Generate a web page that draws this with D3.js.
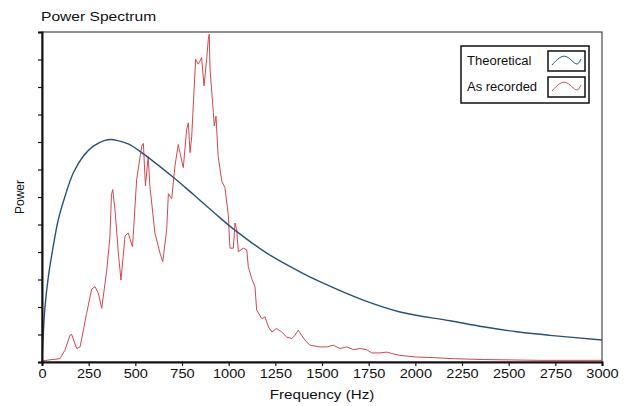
<!DOCTYPE html>
<html>
<head>
<meta charset="utf-8">
<script src="https://cdn.jsdelivr.net/npm/d3@7/dist/d3.min.js"></script>
<style>
  body { margin: 0; background: #fff; }
  text { font-family: Arial, "Liberation Sans", sans-serif; fill: #111; }
</style>
</head>
<body>
<div id="chart"></div>
<script>
// tick labels
var freqTicks = [0, 250, 500, 750, 1000, 1250, 1500, 1750, 2000, 2250, 2500, 2750, 3000];
var powerTicks = [0, 1, 2, 3, 4, 5, 6, 7, 8, 9, 10, 11, 12];

// theoretical curve
var theoFreq = [0, 7, 16, 34, 60, 87, 123, 168, 221, 275, 337, 370, 400, 462, 525, 703, 766, 846, 927, 1025, 1204, 1382, 1489, 1721, 1918, 2186, 2364, 2543, 2721, 3000];
var theoPower = [0, 1.05, 2.0, 3.1, 4.2, 5.17, 6.02, 6.88, 7.48, 7.85, 8.06, 8.09, 8.06, 7.93, 7.66, 6.72, 6.36, 5.88, 5.4, 4.84, 3.96, 3.28, 2.92, 2.25, 1.82, 1.5, 1.28, 1.1, 0.97, 0.8];

// recorded spectrum
var recFreq = [3, 43, 96, 123, 150, 159, 186, 204, 239, 266, 284, 302, 320, 347, 364, 372, 379, 391, 409, 423, 445, 462, 481, 485,
  507, 534, 543, 554, 569, 578, 605, 632, 647, 668, 677, 695, 712, 730, 739, 757, 775, 784, 793, 802, 814, 823, 837, 846, 855,
  868, 882, 891, 896, 900, 918, 923, 932, 944, 963, 980, 998, 1007, 1025, 1034, 1043, 1052, 1078, 1097, 1105, 1123, 1141, 1150,
  1177, 1195, 1213, 1231, 1257, 1284, 1311, 1338, 1355, 1373, 1391, 1409, 1436, 1489, 1525, 1561, 1596, 1632, 1668, 1704, 1739,
  1766, 1811, 1847, 1873, 1918, 2007, 2096, 2203, 2364, 2668, 3000];
var recPower = [0.04, 0.08, 0.12, 0.43, 0.97, 1.0, 0.49, 0.55, 1.77, 2.65, 2.74, 2.5, 1.95, 3.35, 4.56, 6.08, 6.27, 5.54, 3.96, 2.98, 4.59, 4.69, 4.26, 4.2,
  6.63, 7.84, 7.95, 6.41, 7.47, 6.39, 4.69, 3.96, 3.65, 4.81, 6.12, 5.94, 7.12, 7.91, 7.61, 7.07, 8.46, 8.7, 7.61, 8.2, 9.8, 11.01, 10.83, 10.94, 11.07,
  10.04, 11.01, 11.74, 11.92, 10.65, 9.07, 8.58, 8.94, 7.47, 6.58, 6.34, 5.36, 4.14, 4.14, 5.05, 4.81, 4.01, 4.14, 4.08, 3.47, 3.04, 2.74, 1.89,
  1.58, 1.64, 1.28, 1.09, 1.22, 1.09, 0.91, 0.85, 0.97, 1.16, 0.97, 0.79, 0.61, 0.55, 0.55, 0.61, 0.49, 0.55, 0.45, 0.49, 0.45,
  0.33, 0.33, 0.36, 0.31, 0.24, 0.18, 0.16, 0.12, 0.09, 0.06, 0.06];

var seriesNames = ["Theoretical", "As recorded"];
var seriesColors = ["#24527e", "#d4474c"];

var W = 626, H = 406,
    margin = { top: 32, right: 24, bottom: 44, left: 42 },
    w = W - margin.left - margin.right,
    h = H - margin.top - margin.bottom;

var svg = d3.select("#chart").append("svg")
    .attr("width", W)
    .attr("height", H);
var g = svg.append("g")
    .attr("transform", "translate(" + margin.left + "," + margin.top + ")");

var x = d3.scaleLinear().domain([0, 3000]).range([0, w]);
var y = d3.scaleLinear().domain([0, 12]).range([h, 0]);

// frame (top/right)
g.append("rect")
    .attr("width", w).attr("height", h)
    .attr("fill", "none").attr("stroke", "#222").attr("stroke-width", 1);

var theo = theoFreq.map(function(f, i) { return [f, theoPower[i]]; });
var rec = recFreq.map(function(f, i) { return [f, recPower[i]]; });

var recLine = d3.line()
    .x(function(d) { return x(d[0]); })
    .y(function(d) { return y(d[1]); });
var theoLine = d3.line()
    .x(function(d) { return x(d[0]); })
    .y(function(d) { return y(d[1]); })
    .curve(d3.curveCatmullRom.alpha(0.5));

g.append("path").datum(rec)
    .attr("d", recLine)
    .attr("fill", "none").attr("stroke", seriesColors[1]).attr("stroke-width", 1);

g.append("path").datum(theo)
    .attr("d", theoLine)
    .attr("fill", "none").attr("stroke", seriesColors[0]).attr("stroke-width", 1.4);

// axes
var xAxis = d3.axisBottom(x).tickValues(freqTicks).tickSize(4).tickPadding(3).tickFormat(d3.format("d"));
var gx = g.append("g").attr("transform", "translate(0," + h + ")").call(xAxis);
gx.selectAll("text").style("font-size", "13px").attr("transform", "scale(1.12,1)");
gx.select(".domain").attr("stroke", "#111").attr("stroke-width", 2);
gx.selectAll(".tick line").attr("stroke", "#111").attr("stroke-width", 1.2);

var yAxis = d3.axisLeft(y).tickValues(powerTicks).tickSize(4).tickFormat("");
var gy = g.append("g").call(yAxis);
gy.select(".domain").attr("stroke", "#111").attr("stroke-width", 2);
gy.selectAll(".tick line").attr("stroke", "#111").attr("stroke-width", 1.2);

// title and labels
svg.append("text").attr("transform", "translate(41,21) scale(1.2,1)")
    .style("font-size", "13px").text("Power Spectrum");
svg.append("text").attr("transform", "translate(" + (margin.left + w / 2) + ",399) scale(1.17,1)")
    .attr("text-anchor", "middle").style("font-size", "13px").text("Frequency (Hz)");
svg.append("text").attr("transform", "translate(24,197) rotate(-90)")
    .attr("text-anchor", "middle").style("font-size", "12px").text("Power");

// legend
var legend = svg.append("g").attr("transform", "translate(461,46)");
legend.append("rect").attr("width", 128).attr("height", 57)
    .attr("fill", "#fff").attr("stroke", "#111").attr("stroke-width", 1.5);
var wave = [[0, 12], [0.25, 4], [0.5, 2], [0.75, 10], [0.9, 12], [1, 6]];
var waveLine = d3.line()
    .x(function(d) { return 4 + d[0] * 29; })
    .y(function(d) { return d[1] + 2; })
    .curve(d3.curveBasis);
seriesNames.forEach(function(name, i) {
    var row = legend.append("g").attr("transform", "translate(0," + (i * 26) + ")");
    row.append("text").attr("x", 6).attr("y", 19).style("font-size", "13px").text(name);
    var box = row.append("g").attr("transform", "translate(87,5)");
    box.append("rect").attr("width", 37).attr("height", 20)
        .attr("fill", "#fff").attr("stroke", "#111").attr("stroke-width", 1.5);
    box.append("path").attr("d", waveLine(wave))
        .attr("fill", "none").attr("stroke", seriesColors[i]).attr("stroke-width", 1);
});
</script>
</body>
</html>
